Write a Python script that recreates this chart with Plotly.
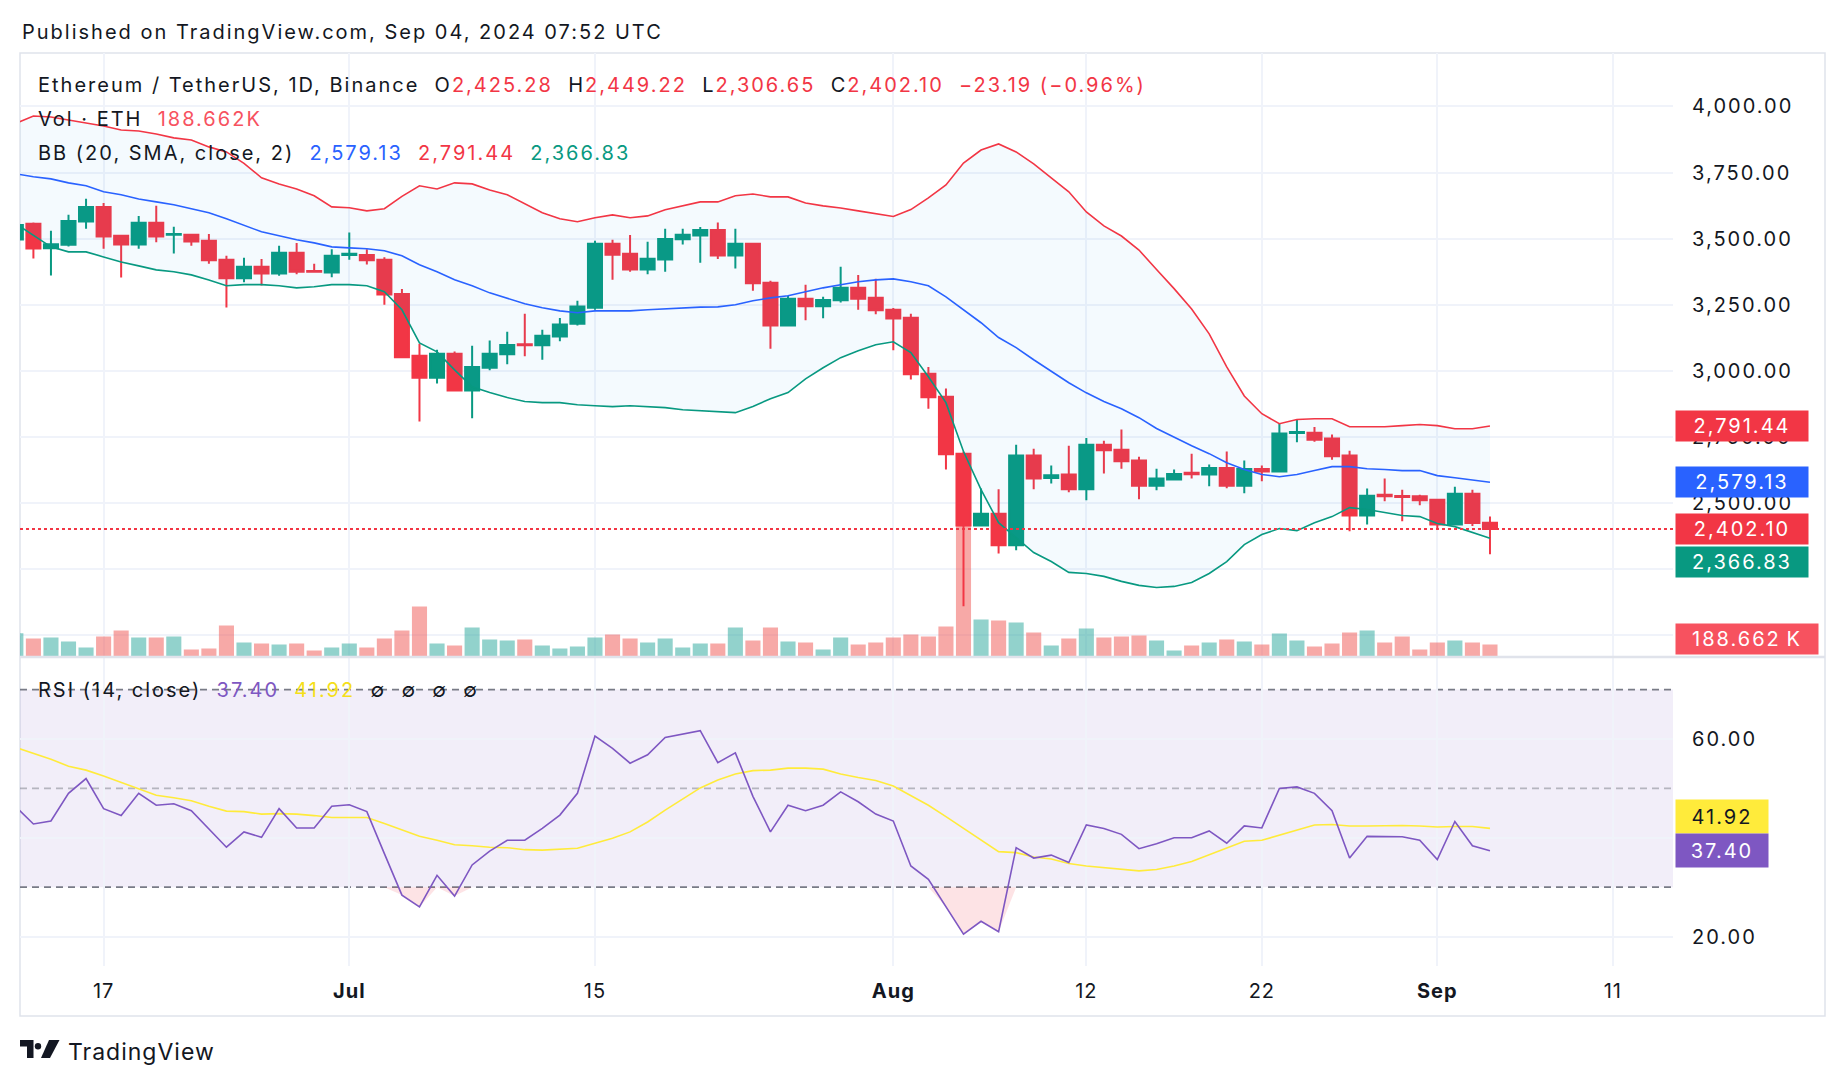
import pandas as pd
import plotly.graph_objects as go

# ---------------- data ----------------
dates = pd.date_range("2024-06-12", "2024-09-04", freq="D")

opens = [3497, 3556, 3464, 3477, 3565, 3620, 3511, 3478, 3560, 3515,
         3515, 3492, 3420, 3350, 3394, 3368, 3447, 3378, 3372, 3438,
         3438, 3420, 3291, 3057, 2974, 3065, 2926, 3012, 3063, 3101,
         3097, 3130, 3178, 3239, 3481, 3443, 3383, 3421, 3498, 3512,
         3533, 3436, 3481, 3333, 3172, 3273, 3244, 3267, 3314, 3277,
         3231, 3201, 2989, 2902, 2687, 2415, 2460, 2341, 2680, 2595,
         2608, 2552, 2721, 2702, 2661, 2566, 2589, 2615, 2608, 2633,
         2566, 2629, 2620, 2765, 2766, 2744, 2680, 2453, 2532, 2527,
         2526, 2513, 2419, 2535, 2425.28]
highs = [3565, 3561, 3530, 3590, 3651, 3635, 3511, 3586, 3624, 3545,
         3518, 3518, 3435, 3428, 3423, 3473, 3484, 3405, 3460, 3523,
         3460, 3430, 3310, 3103, 3080, 3073, 3095, 3115, 3148, 3216,
         3156, 3200, 3265, 3492, 3496, 3514, 3488, 3537, 3537, 3544,
         3561, 3537, 3484, 3341, 3284, 3326, 3280, 3394, 3363, 3348,
         3238, 3216, 3015, 2933, 2695, 2555, 2552, 2721, 2706, 2642,
         2717, 2746, 2736, 2778, 2675, 2630, 2627, 2687, 2646, 2695,
         2661, 2642, 2799, 2818, 2788, 2759, 2698, 2555, 2593, 2551,
         2532, 2513, 2562, 2551, 2449.22]
lows = [3440, 3425, 3361, 3470, 3537, 3462, 3353, 3462, 3486, 3444,
        3473, 3405, 3240, 3335, 3323, 3360, 3365, 3372, 3354, 3420,
        3402, 3250, 3048, 2809, 2952, 2923, 2821, 3002, 3025, 3055,
        3042, 3112, 3172, 3231, 3345, 3375, 3365, 3375, 3478, 3409,
        3423, 3387, 3303, 3084, 3172, 3191, 3199, 3259, 3231, 3214,
        3078, 2967, 2857, 2627, 2110, 2413, 2309, 2322, 2552, 2574,
        2541, 2511, 2612, 2630, 2515, 2549, 2586, 2593, 2564, 2556,
        2537, 2583, 2620, 2730, 2732, 2664, 2394, 2419, 2507, 2431,
        2492, 2400, 2416, 2413, 2306.65]
closes = [3552, 3463, 3479, 3567, 3620, 3508, 3478, 3560, 3508, 3518,
          3489, 3418, 3350, 3394, 3368, 3447, 3375, 3375, 3435, 3443,
          3418, 3289, 3052, 2974, 3065, 2926, 3015, 3065, 3098, 3097,
          3133, 3175, 3243, 3481, 3439, 3383, 3424, 3499, 3515, 3533,
          3436, 3481, 3331, 3172, 3273, 3244, 3268, 3314, 3273, 3229,
          3198, 2987, 2900, 2685, 2415, 2460, 2341, 2680, 2593, 2605,
          2552, 2721, 2700, 2658, 2566, 2593, 2610, 2609, 2633, 2566,
          2629, 2620, 2763, 2769, 2740, 2677, 2453, 2528, 2526, 2523,
          2511, 2419, 2535, 2425, 2402.10]
volumes_k = [366, 283, 299, 236, 141, 314, 409, 299, 299, 314,
             110, 126, 487, 220, 204, 189, 204, 94, 141, 204,
             141, 283, 409, 786, 204, 173, 456, 267, 252, 267,
             173, 126, 157, 299, 346, 283, 220, 283, 141, 204,
             204, 456, 252, 456, 236, 220, 110, 299, 189, 220,
             299, 346, 314, 472, 2358, 582, 566, 534, 377, 173,
             283, 440, 299, 314, 330, 252, 94, 173, 220, 267,
             236, 189, 362, 252, 157, 204, 377, 409, 220, 314,
             110, 220, 252, 220, 188.662]
bb_upper = [3936, 3964, 3960, 3949, 3938, 3926, 3911, 3907, 3896, 3881,
            3873, 3847, 3828, 3785, 3730, 3707, 3688, 3662, 3620, 3617,
            3605, 3613, 3660, 3700, 3688, 3711, 3707, 3684, 3666, 3632,
            3598, 3575, 3564, 3579, 3590, 3579, 3586, 3609, 3624, 3639,
            3639, 3662, 3669, 3658, 3658, 3635, 3624, 3616, 3605, 3594,
            3584, 3610, 3654, 3703, 3786, 3835, 3858, 3828, 3783, 3730,
            3677, 3601, 3548, 3510, 3457, 3383, 3311, 3234, 3140, 3015,
            2905, 2838, 2800, 2816, 2819, 2819, 2789, 2789, 2789, 2793,
            2797, 2793, 2781, 2781, 2791.44]
bb_basis = [3745, 3734, 3726, 3711, 3700, 3677, 3666, 3650, 3639, 3628,
            3613, 3598, 3575, 3549, 3526, 3511, 3496, 3484, 3469, 3465,
            3462, 3454, 3435, 3401, 3375, 3345, 3322, 3295, 3273, 3254,
            3239, 3227, 3220, 3227, 3227, 3227, 3231, 3235, 3239, 3241,
            3242, 3250, 3265, 3276, 3284, 3299, 3314, 3326, 3337, 3344,
            3348, 3337, 3322, 3280, 3231, 3182, 3126, 3088, 3042, 2997,
            2955, 2917, 2884, 2857, 2823, 2782, 2748, 2717, 2687, 2653,
            2627, 2608, 2600, 2608, 2623, 2638, 2638, 2630, 2627, 2623,
            2623, 2604, 2596, 2589, 2579.13]
bb_lower = [3556, 3511, 3469, 3450, 3450, 3431, 3412, 3397, 3382, 3375,
            3363, 3344, 3322, 3326, 3326, 3322, 3314, 3318, 3326, 3326,
            3322, 3299, 3231, 3106, 3072, 3004, 2940, 2918, 2899, 2884,
            2880, 2880, 2872, 2868, 2865, 2868, 2865, 2861, 2853, 2849,
            2846, 2842, 2865, 2895, 2918, 2970, 3012, 3050, 3076, 3099,
            3110, 3069, 2978, 2880, 2695, 2551, 2426, 2370, 2313, 2279,
            2238, 2234, 2223, 2204, 2189, 2181, 2185, 2200, 2234, 2279,
            2343, 2381, 2404, 2396, 2426, 2449, 2483, 2476, 2464, 2453,
            2449, 2423, 2411, 2389, 2366.83]
rsi = [46.3, 42.8, 43.4, 49.0, 52.0, 45.9, 44.5, 49.0, 46.6, 46.9,
       45.5, 41.7, 38.1, 41.2, 40.1, 45.9, 42.0, 42.0, 46.4, 46.7,
       45.3, 36.8, 28.4, 26.0, 32.4, 28.2, 34.5, 37.3, 39.5, 39.5,
       41.9, 44.6, 49.0, 60.6, 58.1, 55.1, 56.8, 60.3, 61.0, 61.7,
       55.2, 57.2, 48.4, 41.2, 46.6, 45.5, 46.6, 49.3, 47.3, 44.8,
       43.4, 34.3, 31.6, 26.0, 20.5, 23.1, 21.0, 38.0, 35.9, 36.5,
       35.0, 42.6, 41.9, 40.7, 37.8, 38.8, 40.0, 40.0, 41.4, 38.9,
       42.4, 42.0, 50.0, 50.3, 49.0, 45.5, 35.9, 40.3, 40.3, 40.2,
       39.5, 35.6, 43.3, 38.4, 37.40]
rsi_ma = [58.3, 57.1, 55.9, 54.5, 53.7, 52.5, 51.2, 49.8, 48.6, 48.1,
          47.5, 46.4, 45.4, 45.3, 44.8, 44.9, 44.8, 44.5, 44.1, 44.1,
          44.1, 42.9, 41.6, 40.3, 39.5, 38.6, 38.4, 38.1, 38.0, 37.6,
          37.5, 37.7, 37.9, 38.9, 39.9, 41.2, 43.2, 45.6, 47.8, 50.1,
          51.7, 52.9, 53.6, 53.7, 54.1, 54.1, 53.9, 52.9, 52.2, 51.6,
          50.5, 48.6, 46.6, 44.3, 41.9, 39.5, 37.2, 37.0, 36.1, 35.7,
          34.8, 34.3, 34.0, 33.6, 33.3, 33.6, 34.3, 35.2, 36.6, 38.0,
          39.3, 39.5, 40.5, 41.6, 42.6, 42.7, 42.4, 42.4, 42.5, 42.5,
          42.4, 42.2, 42.3, 42.3, 41.92]

# tick labels that sit fully behind the value boxes are left blank (as in the reference)
price_ticks = [2000, 2250, 2500, 2750, 3000, 3250, 3500, 3750, 4000]
price_tick_labels = ["", "", "2,500.00", "2,750.00", "3,000.00",
                     "3,250.00", "3,500.00", "3,750.00", "4,000.00"]
rsi_ticks = [20, 40, 60]
rsi_tick_labels = ["20.00", "", "60.00"]
time_ticks = ["2024-06-17", "2024-07-01", "2024-07-15", "2024-08-01",
              "2024-08-12", "2024-08-22", "2024-09-01", "2024-09-11"]
time_tick_labels = ["17", "<b>Jul</b>", "15", "<b>Aug</b>", "12", "22", "<b>Sep</b>", "11"]

# ---------------- style ----------------
W, H = 1846, 1086
FONT = "Inter, Roboto, sans-serif"
TXT = "#131722"
UP, DOWN = "#089981", "#f23645"
GRID = "#f0f3fa"
BORDER = "#e0e3eb"
LS = 2  # letter spacing, px


def sp(t, ls=LS):
    return f"<span style='letter-spacing:{ls}px'>{t}</span>" if t else ""


def px(x):
    return x / W


def py(y):
    return 1 - y / H


PANE_L, PANE_R = 20, 1673
PRICE_T, PRICE_B = 53, 656.5
RSI_T, RSI_B = 658, 966

fig = go.Figure()

# volume (main y axis, drawn underneath the candles)
vol_colors = ["rgba(38,166,154,0.5)" if c >= o else "rgba(239,83,80,0.5)"
              for o, c in zip(opens, closes)]
fig.add_trace(go.Bar(x=dates, y=volumes_k, marker=dict(color=vol_colors, line=dict(width=0)),
                     xaxis="x", yaxis="y", showlegend=False, hoverinfo="skip"))

# Bollinger bands on the price axis (y3)
fig.add_trace(go.Scatter(x=dates, y=bb_upper, mode="lines", line=dict(color="#f23645", width=1.6),
                         xaxis="x", yaxis="y3", showlegend=False, hoverinfo="skip"))
fig.add_trace(go.Scatter(x=dates, y=bb_lower, mode="lines", line=dict(color="#089981", width=1.6),
                         fill="tonexty", fillcolor="rgba(33,150,243,0.05)",
                         xaxis="x", yaxis="y3", showlegend=False, hoverinfo="skip"))
fig.add_trace(go.Scatter(x=dates, y=bb_basis, mode="lines", line=dict(color="#2962ff", width=1.6),
                         xaxis="x", yaxis="y3", showlegend=False, hoverinfo="skip"))

fig.add_trace(go.Candlestick(
    x=dates, open=opens, high=highs, low=lows, close=closes,
    increasing=dict(line=dict(color=UP, width=2), fillcolor=UP),
    decreasing=dict(line=dict(color=DOWN, width=2), fillcolor=DOWN),
    xaxis="x", yaxis="y3", showlegend=False, hoverinfo="skip"))

# RSI pane
rsi_floor = [30] * len(rsi)
rsi_clip = [min(v, 30) for v in rsi]
fig.add_trace(go.Scatter(x=dates, y=rsi_floor, mode="lines", line=dict(width=0),
                         xaxis="x2", yaxis="y2", showlegend=False, hoverinfo="skip"))
fig.add_trace(go.Scatter(x=dates, y=rsi_clip, mode="lines", line=dict(width=0),
                         fill="tonexty", fillcolor="rgba(242,54,69,0.14)",
                         xaxis="x2", yaxis="y2", showlegend=False, hoverinfo="skip"))
fig.add_trace(go.Scatter(x=dates, y=rsi_ma, mode="lines", line=dict(color="#ffeb3b", width=1.6),
                         xaxis="x2", yaxis="y2", showlegend=False, hoverinfo="skip"))
fig.add_trace(go.Scatter(x=dates, y=rsi, mode="lines", line=dict(color="#7e57c2", width=1.6),
                         xaxis="x2", yaxis="y2", showlegend=False, hoverinfo="skip"))

x_range = ["2024-06-12 05:40", "2024-09-14 10:19"]
axis_font = dict(family=FONT, size=20, color=TXT)

fig.update_layout(
    width=W, height=H, autosize=False,
    margin=dict(l=0, r=0, t=0, b=0),
    paper_bgcolor="white", plot_bgcolor="rgba(0,0,0,0)",
    font=dict(family=FONT, color=TXT, size=20),
    bargap=0.14, boxgap=0.2, boxgroupgap=0,
    showlegend=False,
    xaxis=dict(domain=[px(PANE_L), px(PANE_R)], range=x_range, type="date", anchor="y",
               showticklabels=False, tickvals=time_ticks, showgrid=True, gridcolor=GRID, gridwidth=1.5,
               zeroline=False, showline=False, ticks="", rangeslider=dict(visible=False), fixedrange=True),
    yaxis=dict(domain=[py(PRICE_B), py(PRICE_T)], range=[0, 9480], visible=False, fixedrange=True),
    yaxis3=dict(overlaying="y", anchor="x", side="right", range=[1920, 4202],
                tickvals=price_ticks, ticktext=[sp(t) for t in price_tick_labels], tickfont=axis_font,
                showgrid=True, gridcolor=GRID, gridwidth=1.5, zeroline=False, showline=False,
                ticks="", ticklabelstandoff=18),
    xaxis2=dict(domain=[px(PANE_L), px(PANE_R)], range=x_range, type="date", anchor="y2", matches="x",
                tickvals=time_ticks, ticktext=[sp(t, 1) for t in time_tick_labels], tickfont=axis_font,
                showgrid=True, gridcolor=GRID, gridwidth=1.5, zeroline=False, showline=False,
                ticks="", ticklabelstandoff=11),
    yaxis2=dict(domain=[py(RSI_B), py(RSI_T)], range=[14.05, 76.4], anchor="x2", side="right",
                tickvals=rsi_ticks, ticktext=[sp(t) for t in rsi_tick_labels], tickfont=axis_font,
                showgrid=True, gridcolor=GRID, gridwidth=1.5, zeroline=False, showline=False,
                ticks="", ticklabelstandoff=18),
)

shapes = [
    # outer frame
    dict(type="rect", xref="paper", yref="paper", x0=px(20), x1=px(1825), y0=py(1016), y1=py(53),
         line=dict(color=BORDER, width=1.5), layer="below"),
    # pane separator
    dict(type="line", xref="paper", yref="paper", x0=px(20), x1=px(1825), y0=py(657), y1=py(657),
         line=dict(color=BORDER, width=2.5), layer="above"),
    # RSI band background and levels
    dict(type="rect", xref="x2 domain", yref="y2", x0=0, x1=1, y0=30, y1=70,
         fillcolor="rgba(126,87,194,0.1)", line=dict(width=0), layer="below"),
    dict(type="line", xref="x2 domain", yref="y2", x0=0, x1=1, y0=70, y1=70,
         line=dict(color="#787b86", width=1.8, dash="7px,5px"), layer="below"),
    dict(type="line", xref="x2 domain", yref="y2", x0=0, x1=1, y0=50, y1=50,
         line=dict(color="rgba(120,123,134,0.5)", width=1.8, dash="7px,5px"), layer="below"),
    dict(type="line", xref="x2 domain", yref="y2", x0=0, x1=1, y0=30, y1=30,
         line=dict(color="#787b86", width=1.8, dash="7px,5px"), layer="below"),
    # last price dotted line
    dict(type="line", xref="x domain", yref="y3", x0=0, x1=1, y0=closes[-1], y1=closes[-1],
         line=dict(color=DOWN, width=2, dash="dot"), layer="above"),
    # TradingView logo mark
    dict(type="path", xref="paper", yref="paper",
         path=f"M {px(20)},{py(1040)} L {px(33.5)},{py(1040)} L {px(33.5)},{py(1058)} "
              f"L {px(27)},{py(1058)} L {px(27)},{py(1046.5)} L {px(20)},{py(1046.5)} Z",
         fillcolor=TXT, line=dict(width=0)),
    dict(type="circle", xref="paper", yref="paper", x0=px(34.8), x1=px(41.2), y0=py(1049.5), y1=py(1043),
         fillcolor=TXT, line=dict(width=0)),
    dict(type="path", xref="paper", yref="paper",
         path=f"M {px(49)},{py(1040)} L {px(59.5)},{py(1040)} L {px(50)},{py(1058)} L {px(41)},{py(1058)} Z",
         fillcolor=TXT, line=dict(width=0)),
]
fig.update_layout(shapes=shapes)


def col(t, c):
    return f"<span style='color:{c}'>{t}</span>"


ann = []


def text_ann(x, y, text, size=20, color=TXT, ls=LS):
    ann.append(dict(xref="paper", yref="paper", x=px(x), y=py(y), xanchor="left", yanchor="middle",
                    text=sp(text, ls), showarrow=False, font=dict(family=FONT, size=size, color=color)))


RED = "#f23645"
text_ann(20, 32, "Published on TradingView.com, Sep 04, 2024 07:52 UTC")
text_ann(36, 85, "Ethereum / TetherUS, 1D, Binance  O" + col(f"{opens[-1]:,.2f}", RED)
         + "  H" + col(f"{highs[-1]:,.2f}", RED) + "  L" + col(f"{lows[-1]:,.2f}", RED)
         + "  C" + col(f"{closes[-1]:,.2f}", RED) + "  " + col("−23.19 (−0.96%)", RED))
text_ann(36, 119, "Vol · ETH  " + col("188.662K", "#f7525f"))
text_ann(36, 153, "BB (20, SMA, close, 2)  " + col(f"{bb_basis[-1]:,.2f}", "#2962ff") + "  "
         + col(f"{bb_upper[-1]:,.2f}", RED) + "  " + col(f"{bb_lower[-1]:,.2f}", "#089981"))
text_ann(36, 690, "RSI (14, close)  " + col(f"{rsi[-1]:.2f}", "#7e57c2") + "  "
         + col(f"{rsi_ma[-1]:.2f}", "#f5df1a") + "  ∅  ∅  ∅  ∅")
text_ann(66, 1052, "TradingView", size=23, ls=1)


def box(yref, y, text, bg, fg, yshift=0, w=132, h=30):
    ann.append(dict(xref="paper", yref=yref, x=px(1675), y=y, yshift=yshift, xanchor="left", yanchor="middle",
                    text=sp(text), showarrow=False, bgcolor=bg, width=w, height=h, borderpad=0, align="center",
                    font=dict(family=FONT, size=20, color=fg)))


box("y3", bb_upper[-1], f"{bb_upper[-1]:,.2f}", "#f23645", "white")
box("y3", bb_basis[-1], f"{bb_basis[-1]:,.2f}", "#2962ff", "white")
box("y3", closes[-1], f"{closes[-1]:,.2f}", "#f23645", "white")
box("y3", bb_lower[-1], f"{bb_lower[-1]:,.2f}", "#089981", "white", yshift=-24)
box("y", volumes_k[-1], f"{volumes_k[-1]:.3f}\u2009K", "#f7525f", "white", yshift=5, w=142)
box("y2", rsi_ma[-1], f"{rsi_ma[-1]:.2f}", "#ffeb3b", TXT, yshift=12, w=92, h=33)
box("y2", rsi[-1], f"{rsi[-1]:.2f}", "#7e57c2", "white", w=92, h=33)

fig.update_layout(annotations=ann)

fig.write_html("out.html",
               config={"displayModeBar": False, "displaylogo": False},
               post_script="document.body.style.margin='0';document.body.style.padding='0';"
                           "document.documentElement.style.overflow='hidden';")
